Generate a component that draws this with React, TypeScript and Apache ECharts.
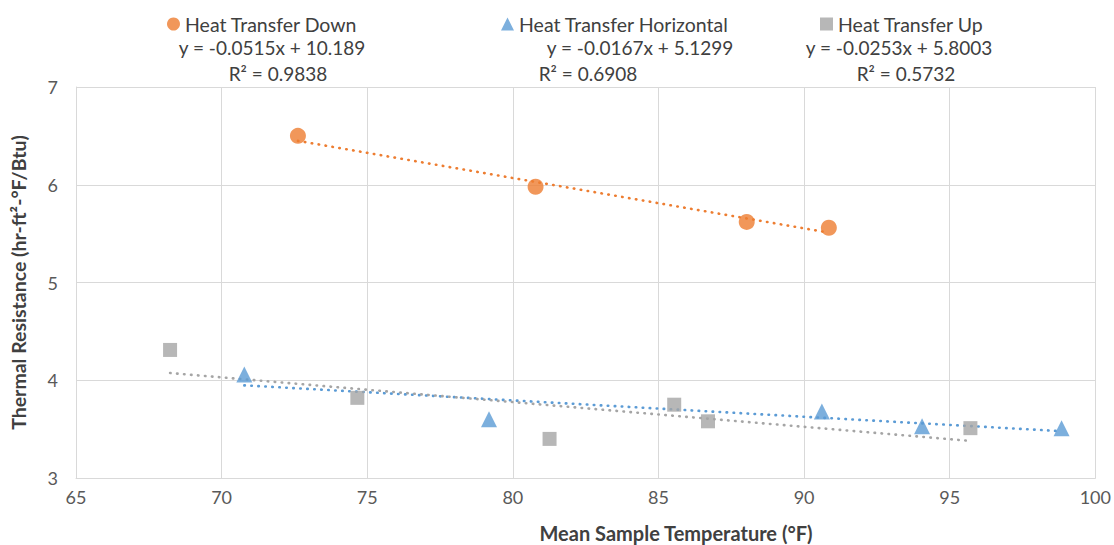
import React, { useEffect, useRef } from "react";
import * as echarts from "echarts";

const seriesNames = ["Heat Transfer Down", "Heat Transfer Horizontal", "Heat Transfer Up"];
const downData = [[72.62, 6.5], [80.78, 5.98], [88.03, 5.62], [90.85, 5.56]];
const horizData = [[70.78, 4.06], [79.18, 3.6], [90.61, 3.68], [94.05, 3.53], [98.84, 3.51]];
const upData = [[68.23, 4.31], [74.66, 3.82], [81.26, 3.4], [85.54, 3.75], [86.7, 3.58], [95.71, 3.51]];
const trendDown = [[72.62, 6.449], [90.85, 5.51]];
const trendHoriz = [[70.78, 3.948], [98.84, 3.479]];
const trendUp = [[68.23, 4.074], [95.71, 3.379]];
const equations = ["y = -0.0515x + 10.189", "y = -0.0167x + 5.1299", "y = -0.0253x + 5.8003"];
const r2Labels = ["R² = 0.9838", "R² = 0.6908", "R² = 0.5732"];
const colors = ["#ED7D31", "#5B9BD5", "#A5A5A5"];
const xAxisTitle = "Mean Sample Temperature (°F)";
const yAxisTitle = "Thermal Resistance (hr-ft²-°F/Btu)";

const FONT = "Lato, 'Open Sans', sans-serif";
const TXT = "#595959";

export default function App() {
  const ref = useRef<HTMLDivElement>(null);
  useEffect(() => {
    if (!ref.current) return;
    const chart = echarts.init(ref.current, null, { renderer: "svg" });
    const trendStyle = (c: string) => ({
      color: c,
      width: 2.6,
      type: [0.5, 6.5] as any,
      cap: "round" as const,
    });
    const legendCommon = {
      top: 9,
      itemWidth: 13,
      itemHeight: 13,
      textStyle: { color: "#404040", fontSize: 19.5, fontFamily: FONT },
      itemGap: 4,
    };
    const eqPos = [
      { x: 272, y: 47 },
      { x: 640, y: 47 },
      { x: 899, y: 47 },
    ];
    const r2Pos = [
      { x: 278, y: 73 },
      { x: 588, y: 73 },
      { x: 906, y: 73 },
    ];
    const graphics: any[] = [];
    equations.forEach((t, i) => {
      graphics.push({
        type: "text",
        x: eqPos[i].x,
        y: eqPos[i].y,
        style: { text: t, fill: "#404040", font: `19px ${FONT}`, align: "center", verticalAlign: "middle" },
      });
      graphics.push({
        type: "text",
        x: r2Pos[i].x,
        y: r2Pos[i].y,
        style: { text: r2Labels[i], fill: "#404040", font: `19px ${FONT}`, align: "center", verticalAlign: "middle" },
      });
    });
    graphics.push({
      type: "text",
      x: 676,
      y: 533,
      style: { text: xAxisTitle, fill: "#404040", font: `bold 20px ${FONT}`, align: "center", verticalAlign: "middle" },
    });
    chart.setOption({
      animation: false,
      backgroundColor: "#ffffff",
      legend: [
        { ...legendCommon, left: 162, data: [{ name: seriesNames[0], icon: "circle" }] },
        { ...legendCommon, left: 496, data: [{ name: seriesNames[1], icon: "triangle" }] },
        { ...legendCommon, left: 815, data: [{ name: seriesNames[2], icon: "rect" }] },
      ],
      grid: { left: 70, right: 14, top: 87, bottom: 67, containLabel: false },
      xAxis: {
        type: "value",
        min: 65,
        max: 100,
        interval: 5,
        axisLine: { show: true, lineStyle: { color: "#d9d9d9" } },
        axisTick: { show: false },
        axisLabel: { color: TXT, fontSize: 18, fontFamily: FONT, margin: 10 },
        splitLine: { show: true, lineStyle: { color: "#d9d9d9", width: 1 } },
      },
      yAxis: {
        type: "value",
        min: 3,
        max: 7,
        interval: 1,
        name: yAxisTitle,
        nameLocation: "middle",
        nameGap: 48,
        nameTextStyle: { color: "#404040", fontSize: 19.5, fontWeight: "bold", fontFamily: FONT },
        axisLine: { show: true, lineStyle: { color: "#d9d9d9" } },
        axisTick: { show: false },
        axisLabel: { color: TXT, fontSize: 18, fontFamily: FONT, margin: 18 },
        splitLine: { show: true, lineStyle: { color: "#d9d9d9", width: 1 } },
      },
      series: [
        {
          name: seriesNames[0] + " trend",
          type: "line",
          data: trendDown,
          symbol: "none",
          lineStyle: trendStyle(colors[0]),
          z: 1,
          silent: true,
        },
        {
          name: seriesNames[1] + " trend",
          type: "line",
          data: trendHoriz,
          symbol: "none",
          lineStyle: trendStyle(colors[1]),
          z: 1,
          silent: true,
        },
        {
          name: seriesNames[2] + " trend",
          type: "line",
          data: trendUp,
          symbol: "none",
          lineStyle: trendStyle(colors[2]),
          z: 1,
          silent: true,
        },
        {
          name: seriesNames[0],
          type: "scatter",
          data: downData,
          symbol: "circle",
          symbolSize: 16,
          itemStyle: { color: colors[0] },
          z: 3,
        },
        {
          name: seriesNames[1],
          type: "scatter",
          data: horizData,
          symbol: "triangle",
          symbolSize: 16,
          itemStyle: { color: colors[1] },
          z: 3,
        },
        {
          name: seriesNames[2],
          type: "scatter",
          data: upData,
          symbol: "rect",
          symbolSize: 14,
          itemStyle: { color: colors[2] },
          z: 3,
        },
      ],
      graphic: graphics,
    });
    return () => chart.dispose();
  }, []);
  return (
    <div
      ref={ref}
      style={{ position: "fixed", left: 0, top: 0, width: 1114, height: 545, background: "#fff" }}
    />
  );
}
